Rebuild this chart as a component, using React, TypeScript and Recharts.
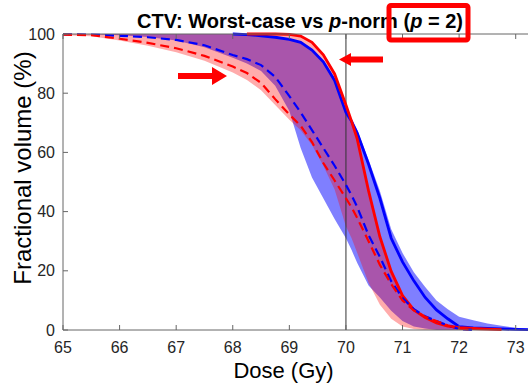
import React from "react";
import { Area, ComposedChart, Line, ReferenceLine, XAxis, YAxis } from "recharts";

// dose grid (Gy)
const dose = [
  65, 65.5, 66, 66.5, 67, 67.5, 68, 68.25, 68.5, 68.75, 69, 69.2, 69.4, 69.6, 69.8, 70, 70.1,
  70.2, 70.4, 70.6, 70.8, 71, 71.2, 71.4, 71.6, 71.8, 72, 72.25, 72.5, 72.75, 73, 73.25, 73.5,
];

// nominal curves (fractional volume %)
const blueSolid = [
  null, null, null, null, null, null, 100, 99.8, 99.4, 98.9, 98.2, 97.2, 94.6, 90.6, 84.3, 73.5, 70.5,
  66.5, 56, 44.5, 31, 23, 16.6, 11, 6.8, 3.8, 1.1, 0.7, 0.5, 0.35, 0.2, 0.1, 0,
];
const redSolid = [
  null, null, null, null, null, null, null, 100, 100, 100, 99.9, 99.3, 97.2, 93, 86.5, 76, 70.5,
  64.5, 47, 31.5, 19.8, 11.6, 6.8, 4.2, 2.4, 1.3, 0.8, 0.5, 0.3, 0.1, null, null, null,
];
const blueDash = [
  99.9, 99.8, 99.4, 98.9, 98, 96.2, 92.9, 91.5, 89.5, 85.5, 79, 73.5, 67.5, 61.5, 55.5, 49, 45.5,
  41.5, 32, 24.7, 16.5, 10.8, 7, 4.6, 3, 1.6, 0.3, 0, null, null, null, null, null,
];
const redDash = [
  99.8, 99.6, 98.4, 97, 95.2, 92.6, 89, 86.8, 83.5, 78, 72.8, 69, 63.5, 56.4, 50.5, 44.5, 41.4,
  37.8, 30, 22, 15.5, 10, 6.6, 4.5, 3, 1.5, 0.5, 0, null, null, null, null, null,
];

// uncertainty bands: lower / upper bound at each dose
const blueLow = [
  100, 99.9, 99.6, 99, 97.8, 95.5, 92, 90, 87.5, 82.5, 74, 61.5, 51.5, 44.5, 37.5, 31, 27,
  22.6, 15, 11, 6.5, 3, 1.2, 0.5, 0, 0, 0, 0, 0, 0, 0, 0, 0,
];
const blueHigh = [
  100, 100, 100, 100, 100, 100, 100, 100, 99.6, 99.1, 98.4, 97.4, 95, 91, 85, 74, 71,
  67.5, 57.5, 47, 34, 26, 19.5, 14.5, 10, 7, 4.5, 3.3, 2.2, 1.4, 0.8, 0.4, 0.1,
];
const redLow = [
  99.6, 99.2, 97.8, 96, 93.8, 91, 87, 84.5, 81, 76, 71, 67.5, 62.5, 55.5, 47.5, 35, 31,
  26, 16, 8.5, 3.8, 1.2, 0.3, 0, 0, 0, 0, 0, 0, 0, 0, 0, 0,
];
const redHigh = [
  100, 100, 100, 100, 100, 100, 100, 100, 100, 100, 100, 99.5, 97.5, 93.5, 87, 76.5, 71,
  65, 47.5, 32, 20, 12, 7.5, 5, 3.2, 2, 1.3, 0.9, 0.5, 0.2, 0, 0, 0,
];

const doseTicks = [65, 66, 67, 68, 69, 70, 71, 72, 73];
const volTicks = [0, 20, 40, 60, 80, 100];

const data = dose.map((d, i) => ({
  dose: d,
  blueBand: [blueLow[i], blueHigh[i]],
  redBand: [redLow[i], redHigh[i]],
  blueSolid: blueSolid[i],
  redSolid: redSolid[i],
  blueDash: blueDash[i],
  redDash: redDash[i],
}));

const FONT = "'Liberation Sans', Arial, Helvetica, sans-serif";
const AXIS = "#666";
const TXT = "#262626";

const BottomTick = ({ x, y, payload }: any) => (
  <g>
    <line x1={x} x2={x} y1={y - 8} y2={y - 13} stroke={AXIS} />
    <text x={x} y={y + 14.5} textAnchor="middle" fontSize={16} fill={TXT} fontFamily={FONT}>
      {payload.value}
    </text>
  </g>
);

const TopTick = ({ x, y }: any) => <line x1={x} x2={x} y1={y} y2={y + 5} stroke={AXIS} />;

const LeftTick = ({ x, y, payload }: any) => (
  <g>
    <line x1={x + 8} x2={x + 13} y1={y} y2={y} stroke={AXIS} />
    <text x={x} y={y} dy={5.5} textAnchor="end" fontSize={16} fill={TXT} fontFamily={FONT}>
      {payload.value}
    </text>
  </g>
);

export default function App() {
  return (
    <div
      style={{
        position: "absolute",
        left: 0,
        top: 0,
        width: 528,
        height: 384,
        overflow: "hidden",
        background: "#fff",
      }}
    >
      <ComposedChart width={560} height={384} data={data} margin={{ top: 4, right: 16, bottom: 0, left: 0 }}>
        <XAxis
          dataKey="dose"
          type="number"
          domain={[65, 73.5]}
          ticks={doseTicks}
          height={54}
          tickSize={0}
          tickMargin={8}
          stroke={AXIS}
          tick={<BottomTick />}
          label={{ value: "Dose (Gy)", position: "insideBottom", offset: 6, dx: -20, fontSize: 22, fill: "#000", fontFamily: FONT }}
        />
        <XAxis
          xAxisId="top"
          orientation="top"
          dataKey="dose"
          type="number"
          domain={[65, 73.5]}
          ticks={doseTicks}
          height={30}
          tickSize={0}
          tickMargin={0}
          stroke={AXIS}
          tick={<TopTick />}
        />
        <YAxis
          type="number"
          domain={[0, 100]}
          ticks={volTicks}
          width={63}
          tickSize={0}
          tickMargin={8}
          stroke={AXIS}
          tick={<LeftTick />}
        />
        <Area type="linear" dataKey="blueBand" stroke="none" fill="#0000ff" fillOpacity={0.5} isAnimationActive={false} />
        <Area type="linear" dataKey="redBand" stroke="none" fill="#ff0000" fillOpacity={0.33} isAnimationActive={false} />
        <ReferenceLine x={70} stroke="#333" strokeWidth={1} />
        <Line type="linear" dataKey="blueSolid" stroke="#0000ff" strokeWidth={2.8} dot={false} isAnimationActive={false} />
        <Line type="linear" dataKey="redSolid" stroke="#ff0000" strokeWidth={2.8} dot={false} isAnimationActive={false} />
        <Line type="linear" dataKey="blueDash" stroke="#0000ff" strokeWidth={2.2} strokeDasharray="9 5" dot={false} isAnimationActive={false} />
        <Line type="linear" dataKey="redDash" stroke="#ff0000" strokeWidth={2.2} strokeDasharray="9 5" dot={false} isAnimationActive={false} />
      </ComposedChart>
      <svg width={528} height={384} style={{ position: "absolute", left: 0, top: 0, pointerEvents: "none" }}>
        <text x={300} y={28} textAnchor="middle" fontWeight="bold" fontSize={20} fill="#000" fontFamily={FONT}>
          CTV: Worst-case vs <tspan fontStyle="italic">p</tspan>-norm (<tspan fontStyle="italic">p</tspan> = 2)
        </text>
        <rect x={389} y={5.5} width={79} height={34.5} rx={2} fill="none" stroke="#ff0000" strokeWidth={5} />
        <path d="M178 73 L212 73 L212 67 L227 76 L212 85 L212 79 L178 79 Z" fill="#ff0000" />
        <path d="M383 56.5 L351 56.5 L351 53 L339 59.5 L351 66 L351 62.5 L383 62.5 Z" fill="#ff0000" />
        <text
          x={31}
          y={168}
          transform="rotate(-90 31 168)"
          textAnchor="middle"
          fontSize={24}
          fill="#000"
          fontFamily={FONT}
        >
          Fractional volume (%)
        </text>
      </svg>
    </div>
  );
}
